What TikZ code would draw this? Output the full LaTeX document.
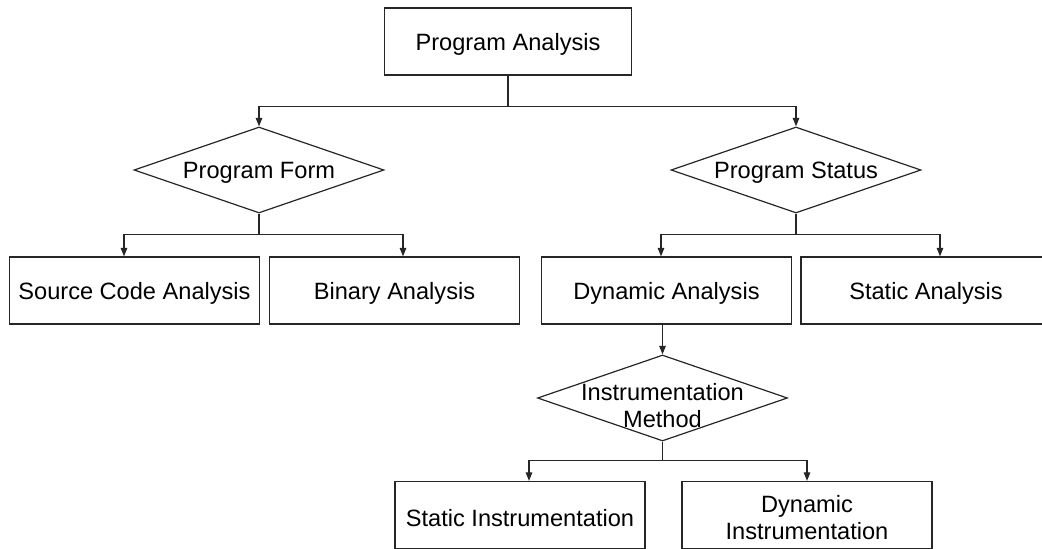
\documentclass[tikz,border=0pt]{standalone}
\usepackage{fontspec}
\setmainfont{Liberation Sans}
\usetikzlibrary{shapes.geometric,arrows.meta}
\begin{document}
\begin{tikzpicture}[x=1pt,y=-1pt,
  txt/.style={font=\fontsize{23.6}{27}\selectfont, text=black, align=center, yshift=-3pt},
  box/.style={draw=black!85, line width=1.2pt, rectangle, minimum width=250, minimum height=67, inner sep=0pt,
    label={[txt]center:#1}},
  choice/.style={draw=black!85, line width=1.2pt, diamond, minimum width=250, minimum height=86, inner sep=0pt,
    label={[txt]center:#1}},
  link/.style={draw=black!85, line width=1.1pt},
  arr/.style={link, -{Triangle[length=8.5pt,width=6.5pt]}}]
\useasboundingbox (0,0) rectangle (1042,549);

% top level
\node[box={Program Analysis}, minimum width=247] (pa) at (508,41.5) {};

% decision diamonds
\node[choice={Program Form}] (pf) at (259,170) {};
\node[choice={Program Status}] (ps) at (796,170) {};

% second level
\node[box={Source Code Analysis}] (sca) at (134.5,290.5) {};
\node[box={Binary Analysis}] (ba) at (394.5,290.5) {};
\node[box={Dynamic Analysis}] (da) at (666.5,290.5) {};
\node[box={Static Analysis}] (sa) at (926,290.5) {};

% instrumentation
\node[choice={}, label={[txt, yshift=-5pt]center:Instrumentation\\Method}] (im) at (662.5,398) {};
\node[box={Static Instrumentation}] (si) at (520,515) {};
\node[box={Dynamic\\Instrumentation}] (di) at (807,515) {};

% connectors
\draw[link] (pa.south) -- ++(0,31) coordinate (pasplit);
\draw[arr] (pasplit) -| (pf.north);
\draw[arr] (pasplit) -| (ps.north);

\draw[link] (pf.south) -- ++(0,21) coordinate (pfsplit);
\draw[arr] (pfsplit) -| ([xshift=-10.5pt]sca.north);
\draw[arr] (pfsplit) -| ([xshift=8.5pt]ba.north);

\draw[link] (ps.south) -- ++(0,21) coordinate (pssplit);
\draw[arr] (pssplit) -| ([xshift=-5.5pt]da.north);
\draw[arr] (pssplit) -| ([xshift=14pt]sa.north);

\draw[arr] (da.south -| im.north) -- (im.north);

\draw[link] (im.south) -- ++(0,19) coordinate (imsplit);
\draw[arr] (imsplit) -| ([xshift=9pt]si.north);
\draw[arr] (imsplit) -| (di.north);
\end{tikzpicture}
\end{document}
